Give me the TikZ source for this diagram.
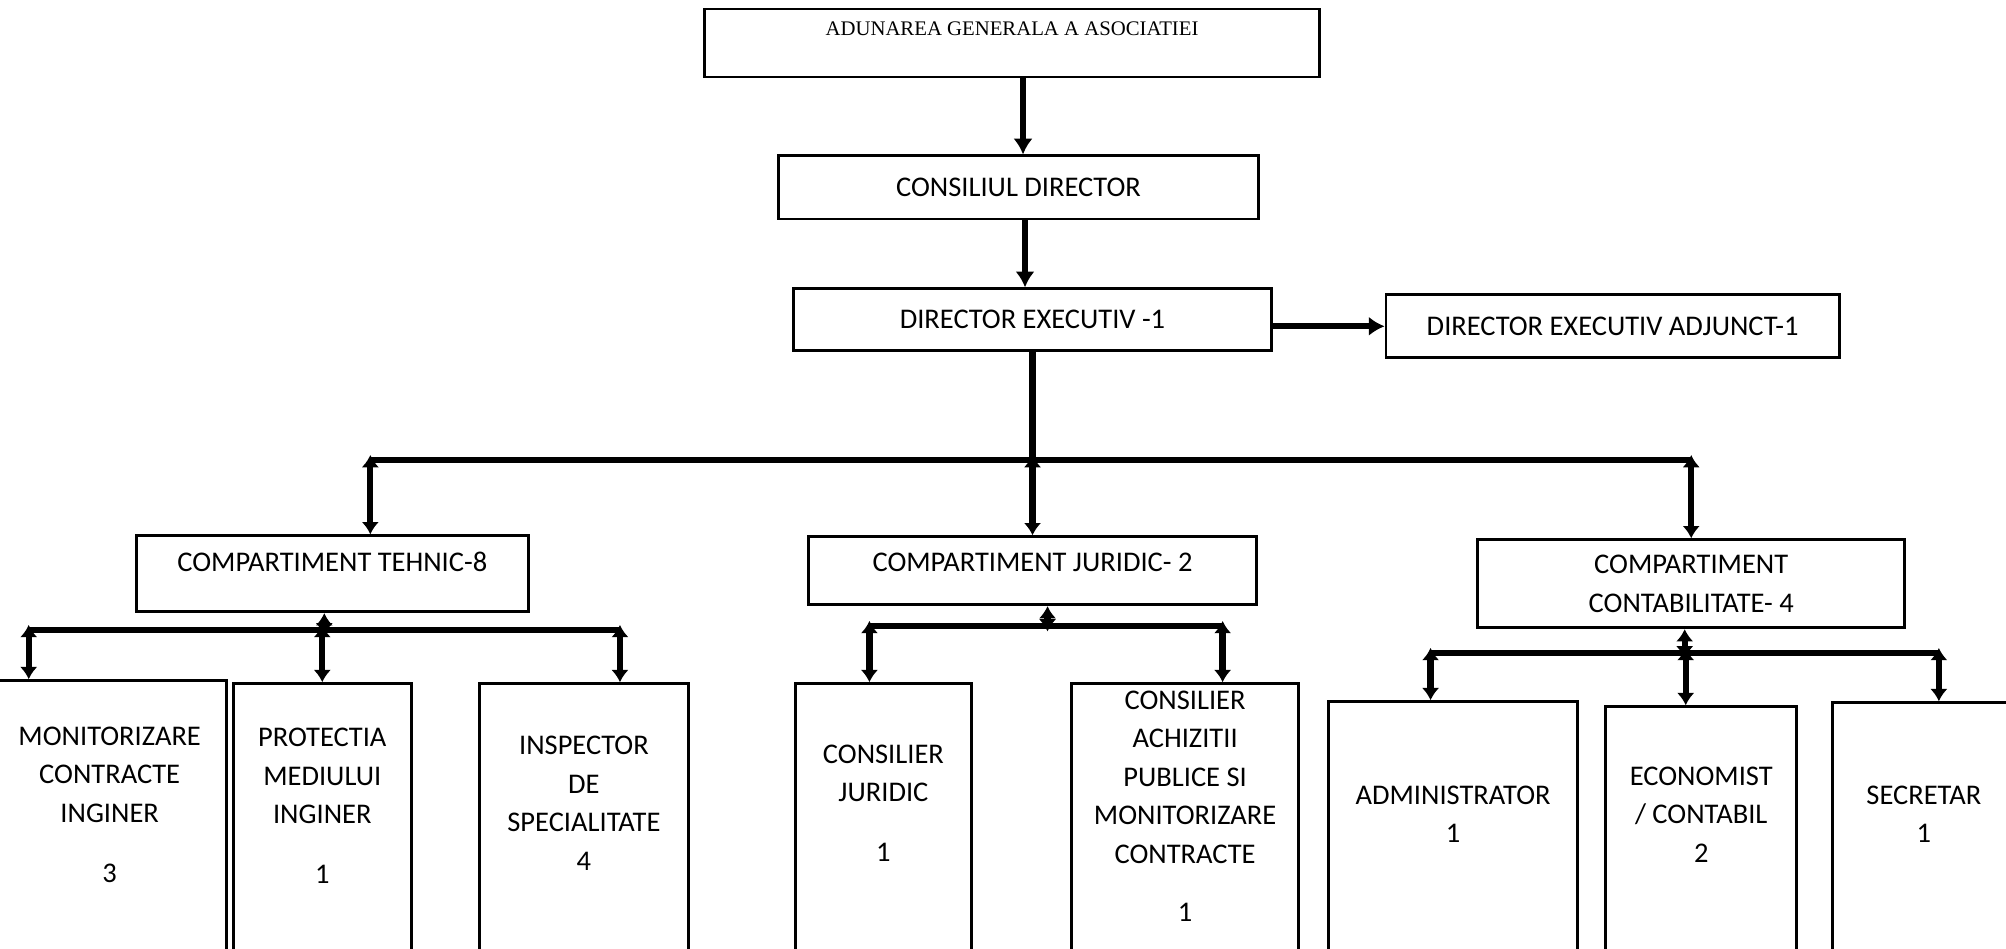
\documentclass[tikz,border=0pt]{standalone}
\usepackage{fontspec}
\setmainfont{Carlito}
\newfontfamily\agfont{Liberation Serif}
\usetikzlibrary{positioning,arrows.meta}

\begin{document}
\begin{tikzpicture}[x=0.01cm, y=-0.01cm,
    box/.style={draw, line width=0.8pt, inner sep=2pt, font=\fontsize{8.1}{10.95}\selectfont},
    cell/.style={box, align=center, minimum height=2.75cm},
    link/.style={line width=1.8pt},
    arrow/.style={link, -{Latex[length=4.5pt,width=5.5pt]}},
    drop/.style={link, {Latex[length=3.5pt,width=5pt]}-{Latex[length=3.5pt,width=5pt]}, shorten <=-1.5pt}]
    \useasboundingbox (0,0) rectangle (2006,949);

    \node [box, minimum width=6.14cm, minimum height=0.68cm, text depth=0.28cm, font=\agfont\fontsize{5.9}{7}\selectfont] (ag) at (1012,43) {ADUNAREA GENERALA A ASOCIATIEI};
    \node [box, minimum width=4.79cm, minimum height=0.63cm, below=0.76cm of ag, xshift=0.065cm] (cd) {CONSILIUL DIRECTOR};
    \node [box, minimum width=4.77cm, minimum height=0.62cm, below=0.67cm of cd, xshift=0.14cm] (dex) {DIRECTOR EXECUTIV -1};
    \node [box, minimum width=4.53cm, minimum height=0.63cm, right=1.12cm of dex, yshift=-0.065cm] (dexa) {DIRECTOR EXECUTIV ADJUNCT-1};

    \node [box, minimum width=4.48cm, minimum height=0.68cm, text depth=0.16cm, below=1.83cm of dex] (cj) {COMPARTIMENT JURIDIC- 2};
    \node [box, minimum width=3.92cm, minimum height=0.76cm, text depth=0.24cm, left=2.77cm of cj, yshift=-0.03cm] (ct) {COMPARTIMENT TEHNIC-8};
    \node [box, align=center, minimum width=4.27cm, minimum height=0.88cm, right=2.18cm of cj, yshift=-0.13cm] (cc) {COMPARTIMENT\\CONTABILITATE- 4};

    \node [cell, minimum width=2.33cm, minimum height=2.78cm, below=0.66cm of ct, xshift=-2.225cm] (mc) {MONITORIZARE\\CONTRACTE\\INGINER\\[0.215cm]3\\[-0.08cm]};
    \node [cell, minimum width=1.78cm, below=0.69cm of ct, xshift=-0.1cm] (pm) {PROTECTIA\\MEDIULUI\\INGINER\\[0.215cm]1\\[-0.08cm]};
    \node [cell, minimum width=2.09cm, below=0.69cm of ct, xshift=2.515cm] (insp) {INSPECTOR\\DE\\SPECIALITATE\\4\\[-0.03cm]};
    \node [cell, minimum width=1.76cm, below=0.76cm of cj, xshift=-1.49cm] (cjr) {CONSILIER\\JURIDIC\\[0.215cm]1\\[-0.03cm]};
    \node [cell, minimum width=2.27cm, below=0.76cm of cj, xshift=1.525cm] (cap) {CONSILIER\\ACHIZITII\\PUBLICE SI\\MONITORIZARE\\CONTRACTE\\[0.2cm]1\\[-0.04cm]};
    \node [cell, minimum width=2.49cm, minimum height=2.57cm, below=0.71cm of cc, xshift=-2.38cm] (adm) {ADMINISTRATOR\\1\\[-0.07cm]};
    \node [cell, minimum width=1.91cm, minimum height=2.52cm, below=0.76cm of cc, xshift=0.1cm] (ec) {ECONOMIST\\/ CONTABIL\\2\\[-0.02cm]};
    \node [cell, minimum width=1.82cm, minimum height=2.56cm, below=0.72cm of cc, xshift=2.325cm] (sec) {SECRETAR\\1\\[-0.06cm]};

    % top chain
    \draw [arrow] ([xshift=0.11cm]ag.south) -- ([xshift=0.11cm]ag.south |- cd.north);
    \draw [arrow] ([xshift=0.065cm]cd.south) -- ([xshift=0.065cm]cd.south |- dex.north);
    \draw [arrow] (dex.east |- dexa.west) -- (dexa.west);

    % compartments
    \coordinate [below=1.08cm of dex] (h0);
    \draw [link] (dex) -- (h0);
    \draw [link] ([xshift=0.38cm]ct.north |- h0) -- (cc.north |- h0);
    \draw [drop] ([xshift=0.38cm]ct.north |- h0) -- ([xshift=0.38cm]ct.north);
    \draw [drop] (h0) -- (h0 |- cj.north);
    \draw [drop] (cc.north |- h0) -- (cc);

    % tehnic
    \coordinate [below=0.17cm of ct, xshift=-0.08cm] (h1);
    \draw [drop] (h1) -- (h1 |- ct.south);
    \draw [link] ([xshift=0.37cm]mc.north west |- h1) -- ([xshift=0.36cm]insp.north |- h1);
    \draw [drop] ([xshift=0.37cm]mc.north west |- h1) -- ([xshift=0.37cm]mc.north west);
    \draw [drop] (pm.north |- h1) -- (pm);
    \draw [drop] ([xshift=0.36cm]insp.north |- h1) -- ([xshift=0.36cm]insp.north);

    % juridic
    \coordinate [below=0.2cm of cj, xshift=0.15cm] (h2);
    \draw [drop] (h2) -- (h2 |- cj.south);
    \draw [link] ([xshift=-0.14cm]cjr.north |- h2) -- ([xshift=0.375cm]cap.north |- h2);
    \draw [drop] ([xshift=-0.14cm]cjr.north |- h2) -- ([xshift=-0.14cm]cjr.north);
    \draw [drop] ([xshift=0.375cm]cap.north |- h2) -- ([xshift=0.375cm]cap.north);

    % contabilitate
    \coordinate [below=0.24cm of cc, xshift=-0.065cm] (h3);
    \draw [drop] (h3) -- (h3 |- cc.south);
    \draw [link] ([xshift=-0.225cm]adm.north |- h3) -- ([xshift=0.15cm]sec.north |- h3);
    \draw [drop] ([xshift=-0.225cm]adm.north |- h3) -- ([xshift=-0.225cm]adm.north);
    \draw [drop] ([xshift=-0.155cm]ec.north |- h3) -- ([xshift=-0.155cm]ec.north);
    \draw [drop] ([xshift=0.15cm]sec.north |- h3) -- ([xshift=0.15cm]sec.north);
\end{tikzpicture}
\end{document}
